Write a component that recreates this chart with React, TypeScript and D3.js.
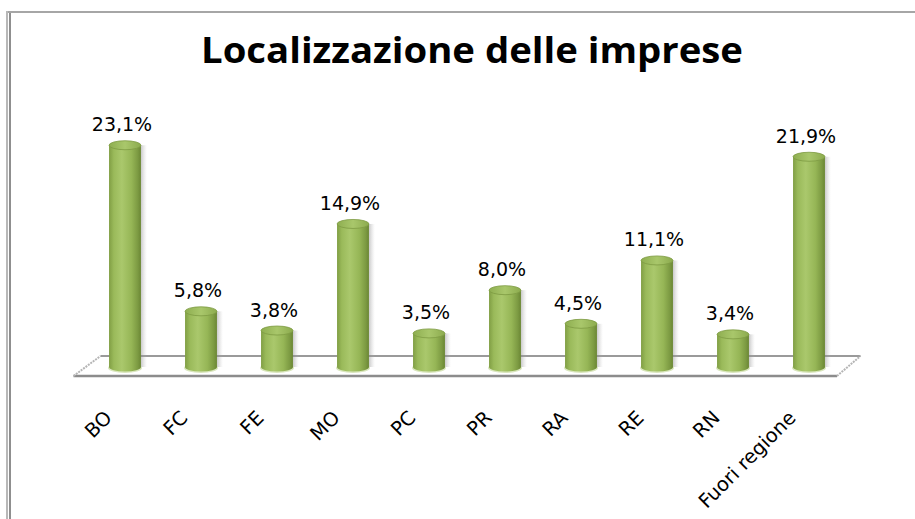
import React from "react";
import * as d3 from "d3";

const categories = ["BO", "FC", "FE", "MO", "PC", "PR", "RA", "RE", "RN", "Fuori regione"];
const values = [23.1, 5.8, 3.8, 14.9, 3.5, 8.0, 4.5, 11.1, 3.4, 21.9];
const valueLabels = ["23,1%", "5,8%", "3,8%", "14,9%", "3,5%", "8,0%", "4,5%", "11,1%", "3,4%", "21,9%"];
const title = "Localizzazione delle imprese";

const W = 915;
const H = 519;
const FONT = "'DejaVu Sans', 'Open Sans', sans-serif";
const TITLE_FONT = "'Open Sans', 'DejaVu Sans', sans-serif";

export default function App() {
  const x = d3.scaleBand<string>().domain(categories).range([87, 847]).paddingInner(0.58).paddingOuter(0.29);
  const y = d3.scaleLinear().domain([0, 25]).range([367, 127]);
  const bw = x.bandwidth();
  const rx = bw / 2;
  const ry = 4.5;
  const floorFront = 376;
  const floorBack = 356;
  const [x0, x1] = x.range();
  const depth = 13.5;

  return (
    <svg width={W} height={H} style={{ position: "absolute", left: 0, top: 0, background: "#fff" }}>
      <defs>
        <linearGradient id="body" x1="0" x2="1" y1="0" y2="0">
          <stop offset="0" stopColor="#809e44" />
          <stop offset="0.15" stopColor="#9aba5a" />
          <stop offset="0.4" stopColor="#aac86c" />
          <stop offset="0.7" stopColor="#96b656" />
          <stop offset="0.9" stopColor="#7c9a42" />
          <stop offset="1" stopColor="#6a8634" />
        </linearGradient>
        <linearGradient id="top" x1="0" x2="1" y1="0" y2="0">
          <stop offset="0" stopColor="#8eae50" />
          <stop offset="0.5" stopColor="#a9c76b" />
          <stop offset="1" stopColor="#8cab4e" />
        </linearGradient>
        <linearGradient id="shadow" x1="0" x2="1" y1="0" y2="0">
          <stop offset="0" stopColor="#888" stopOpacity="0.45" />
          <stop offset="1" stopColor="#bbb" stopOpacity="0" />
        </linearGradient>
      </defs>

      {/* frame */}
      <rect x={6} y={11} width={W - 6} height={2} fill="#a6a6a6" />
      <rect x={6} y={11} width={2} height={H - 11} fill="#b8b8b8" />
      <rect x={9} y={13} width={2} height={H - 13} fill="#8f8f8f" />

      {/* title */}
      <text
        x={472}
        y={63}
        textAnchor="middle"
        fontFamily={TITLE_FONT}
        fontWeight="bold"
        fontSize={35}
        textLength={542}
        lengthAdjust="spacingAndGlyphs"
        fill="#000"
      >
        {title}
      </text>

      {/* floor */}
      <line x1={x0 - depth} y1={floorFront} x2={x1 - 10} y2={floorFront} stroke="#8c8c8c" strokeWidth={2.5} />
      <line x1={x0 + depth} y1={floorBack} x2={x1 + depth} y2={floorBack} stroke="#9a9a9a" strokeWidth={2} />
      <line x1={x0 - depth} y1={floorFront} x2={x0 + depth} y2={floorBack} stroke="#b5b5b5" strokeWidth={2} strokeDasharray="2 1" />
      <line x1={x1 - 10} y1={floorFront} x2={x1 + depth} y2={floorBack} stroke="#b5b5b5" strokeWidth={2} strokeDasharray="2 1" />

      {/* bars */}
      {categories.map((c, i) => {
        const bx = x(c)!;
        const cx = bx + rx;
        const yt = y(values[i]);
        const yb = y(0);
        return (
          <g key={c}>
            <rect x={bx + bw} y={yt} width={6} height={yb - yt} fill="url(#shadow)" />
            <ellipse cx={cx} cy={yb + 1} rx={rx + 1} ry={ry + 0.5} fill="#d9e6bd" />
            <path
              d={`M${bx},${yt} L${bx},${yb} A${rx},${ry} 0 0 0 ${bx + bw},${yb} L${bx + bw},${yt} Z`}
              fill="url(#body)"
            />
            <ellipse cx={cx} cy={yt} rx={rx} ry={ry} fill="url(#top)" stroke="#7d9a42" strokeWidth={0.8} />
            <text
              x={cx - 3}
              y={yt - 14}
              textAnchor="middle"
              fontFamily={FONT}
              fontSize={19}
              fill="#000"
            >
              {valueLabels[i]}
            </text>
          </g>
        );
      })}

      {/* category labels */}
      {categories.map((c) => {
        const cx = x(c)! + rx;
        const ax = cx - 12;
        const ay = 419;
        return (
          <text
            key={c}
            x={ax}
            y={ay}
            textAnchor="end"
            transform={`rotate(-45 ${ax} ${ay})`}
            fontFamily={FONT}
            fontSize={19.5}
            fill="#000"
          >
            {c}
          </text>
        );
      })}
    </svg>
  );
}
